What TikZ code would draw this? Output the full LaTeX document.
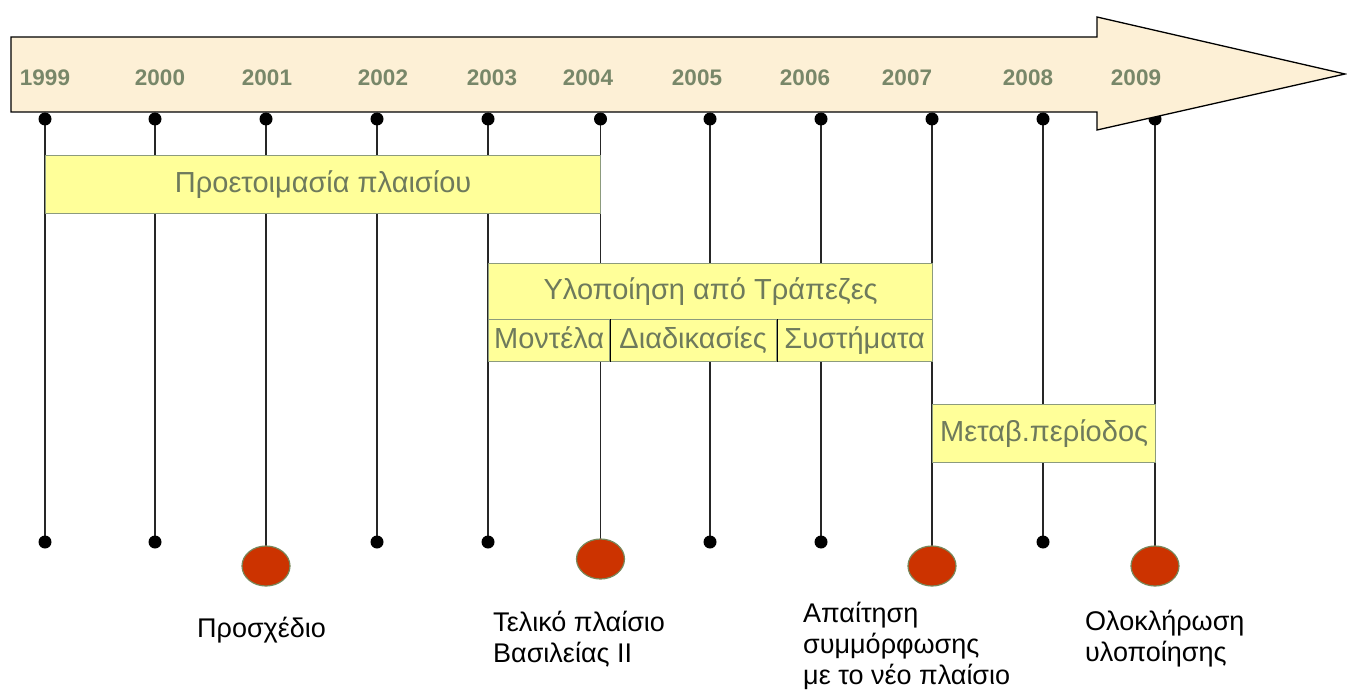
\documentclass[tikz,border=0pt]{standalone}
\usepackage{fontspec}
\setmainfont{Liberation Sans}
\usetikzlibrary{shapes.geometric}
\definecolor{arrowfill}{RGB}{253,240,214}
\definecolor{yeartext}{RGB}{120,135,105}
\definecolor{boxfill}{RGB}{255,255,153}
\definecolor{boxborder}{RGB}{140,155,125}
\definecolor{boxtext}{RGB}{110,122,92}
\definecolor{milefill}{RGB}{204,51,0}
\definecolor{mileborder}{RGB}{120,135,90}
\pgfdeclarelayer{paper}
\pgfdeclarelayer{bg}
\pgfsetlayers{paper,bg,main}
\tikzset{
  yearlabel/.style={font=\fontsize{22.5}{26}\selectfont\bfseries, text=yeartext, inner sep=0},
  tickdot/.style={circle, fill=black, inner sep=0, minimum size=13pt},
  milestone/.style={ellipse, fill=milefill, draw=mileborder, line width=1.2pt, minimum width=48pt, minimum height=40pt, inner sep=0},
  stem/.style={line width=1.6pt, draw=black!85},
  phase/.style={draw=boxborder, fill=boxfill, line width=1.3pt, text=boxtext, font=\fontsize{29}{34}\selectfont, inner sep=0, text height=21pt, text depth=6pt, anchor=north west},
  divider/.style={draw=black, line width=1.5pt},
  caption/.style={font=\fontsize{27}{31}\selectfont, anchor=base west, inner sep=0},
  timearrow/.style={draw=black, fill=arrowfill, line width=1.3pt, line join=miter}
}
\begin{document}
\begin{tikzpicture}[x=1pt,y=-1pt]
\useasboundingbox (0,0) rectangle (1347,690);
\begin{pgfonlayer}{paper}
\fill[white] (0,0) rectangle (1347,690);
\end{pgfonlayer}

% top dots (drawn before the arrow so that the arrow head covers the last one)
\foreach \yr/\xx in {1999/45,2000/155,2001/266,2002/377,2003/488,2004/600.5,2005/710,2006/821,2007/932,2008/1043,2009/1155}
  \node[tickdot] (t\yr) at (\xx,119) {};

% time arrow
\draw[timearrow] (11,37) -- (1097,37) -- (1097,17) -- (1345,74) -- (1097,130) -- (1097,112) -- (11,112) -- cycle;

% year labels
\foreach \yr/\xx in {1999/45,2000/160,2001/267,2002/383,2003/492,2004/588,2005/697,2006/805,2007/907,2008/1028,2009/1136}
  \node[yearlabel] (y\yr) at (\xx,78) {\yr};

% bottom small dots
\foreach \yr/\xx in {1999/45,2000/155,2002/377,2003/488,2005/710,2006/821,2008/1043}
  \node[tickdot] (b\yr) at (\xx,542) {};

% milestones
\node[milestone] (b2001) at (266,566) {};
\node[milestone] (b2004) at (600.5,559) {};
\node[milestone] (b2007) at (932,566) {};
\node[milestone] (b2009) at (1155,566) {};

% stems
\begin{pgfonlayer}{bg}
\foreach \yr in {1999,2000,2001,2002,2003,2004,2005,2006,2007,2008,2009}
  \draw[stem] (t\yr.center) -- (b\yr.center);
\end{pgfonlayer}

% phase boxes
\node[phase, minimum width=555pt, minimum height=58pt] (prep) at (45,155) {Προετοιμασία πλαισίου};
\node[phase, minimum width=444pt, minimum height=56pt] (impl) at (488,263) {Υλοποίηση από Τράπεζες};
\node[phase, minimum width=121pt, minimum height=42pt] (models) at (488,319) {Μοντέλα};
\node[phase, minimum width=167pt, minimum height=42pt] (procs) at (609,319) {Διαδικασίες};
\node[phase, minimum width=156pt, minimum height=42pt] (systems) at (776,319) {Συστήματα};
\draw[divider] (models.north east) -- (models.south east);
\draw[divider] (procs.north east) -- (procs.south east);
\node[phase, minimum width=223pt, minimum height=58pt] (trans) at (932,404) {Μεταβ.περίοδος};

% captions
\node[caption] (c2001) at (197,637) {Προσχέδιο};
\node[caption] (c2004) at (493,631) {\begin{tabular}[t]{@{}l@{}}Τελικό πλαίσιο\\Βασιλείας II\end{tabular}};
\node[caption] (c2007) at (803,622) {\begin{tabular}[t]{@{}l@{}}Απαίτηση\\συμμόρφωσης\\με το νέο πλαίσιο\end{tabular}};
\node[caption] (c2009) at (1085,630) {\begin{tabular}[t]{@{}l@{}}Ολοκλήρωση\\υλοποίησης\end{tabular}};
\end{tikzpicture}
\end{document}
